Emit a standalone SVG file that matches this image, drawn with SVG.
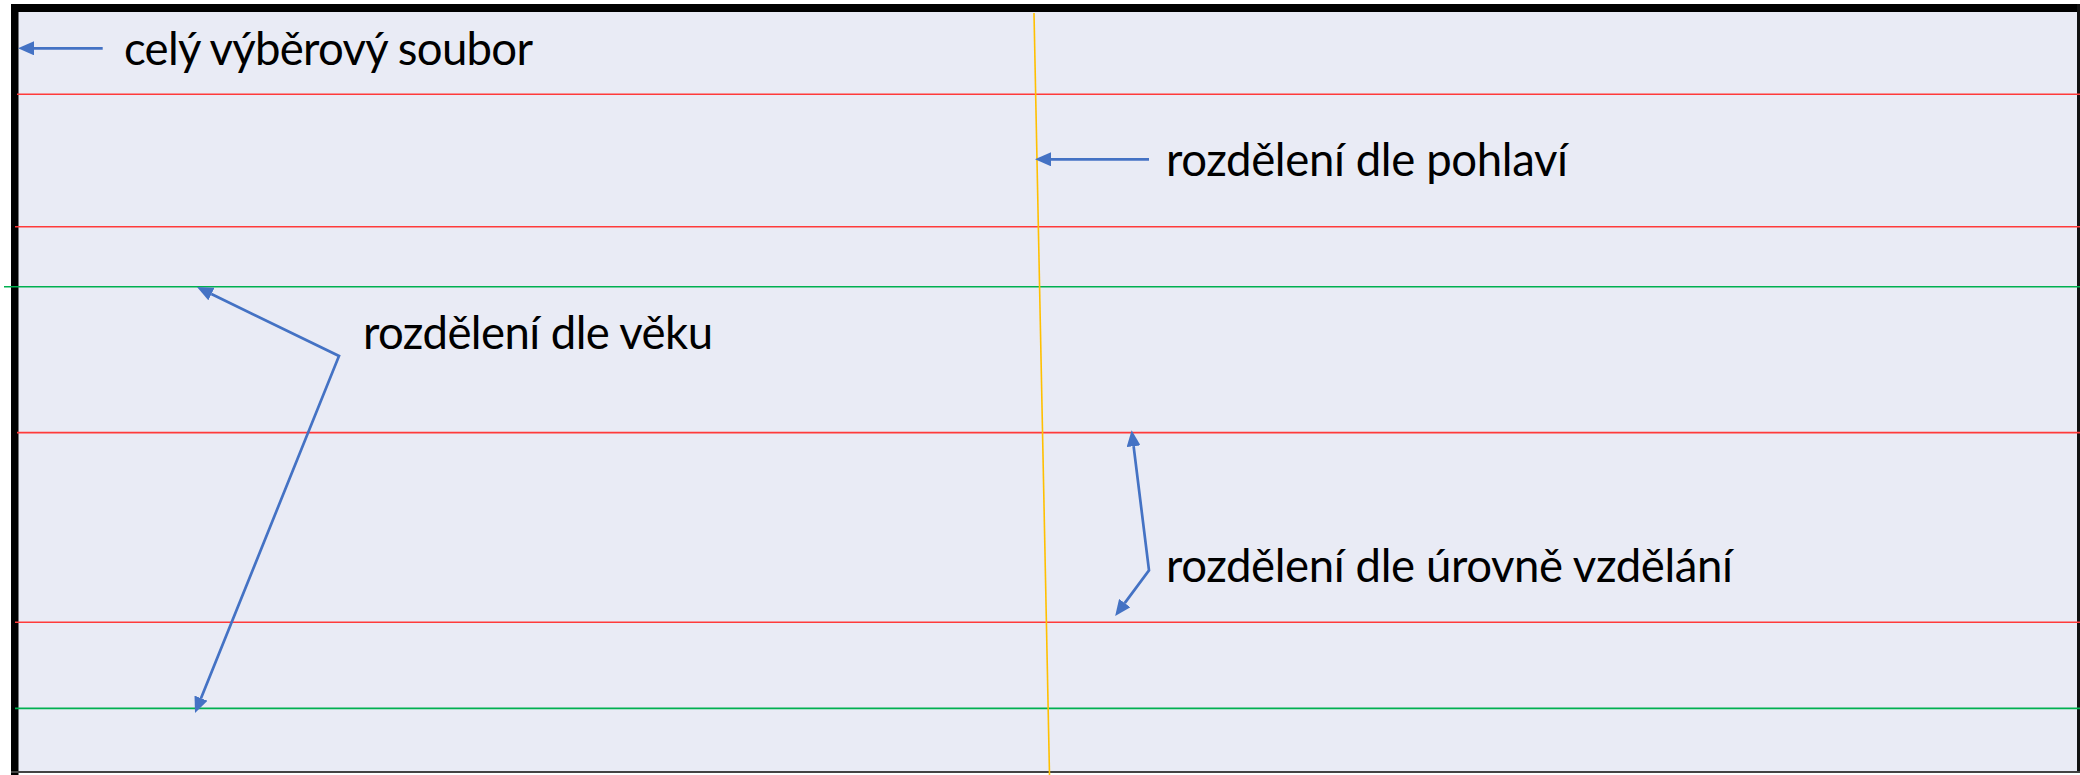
<svg xmlns="http://www.w3.org/2000/svg" width="2080" height="775" viewBox="0 0 2080 775">
  <style>
    .lbl { font-family: "Lato", "Liberation Sans", sans-serif; font-size: 45.5px; fill: #000000; }
    .red { stroke: #FF3A3A; stroke-width: 1.6; fill: none; }
    .green { stroke: #00B050; stroke-width: 1.6; fill: none; }
    .conn { stroke: #4472C4; stroke-width: 2.7; fill: none; stroke-linejoin: miter; }
  </style>
  <defs>
    <marker id="ah" viewBox="0 0 16 14" refX="0" refY="7" markerWidth="16" markerHeight="14" markerUnits="userSpaceOnUse" orient="auto-start-reverse">
      <path d="M0 0 L16 7 L0 14 Z" fill="#4472C4"/>
    </marker>
  </defs>

  <g id="frame">
    <rect x="0" y="0" width="2080" height="775" fill="#FFFFFF"/>
    <rect x="15" y="8" width="2064" height="765" fill="#E9EBF5"/>
    <rect x="11" y="4" width="2069" height="8" fill="#000000"/>
    <rect x="11" y="4" width="7.5" height="771" fill="#000000"/>
    <rect x="2077" y="4" width="3" height="769" fill="#111111"/>
    <rect x="11" y="771" width="2069" height="2" fill="#444444"/>
  </g>

  <g id="levels">
    <line class="red" x1="17" y1="94.2" x2="2080" y2="94.2"/>
    <line class="red" x1="15" y1="226.8" x2="2080" y2="226.8"/>
    <line class="green" x1="4" y1="286.7" x2="2080" y2="286.7"/>
    <line class="red" x1="17" y1="432.6" x2="2080" y2="432.6"/>
    <line class="red" x1="15" y1="622.2" x2="2080" y2="622.2"/>
    <line class="green" x1="15" y1="708.4" x2="2080" y2="708.4"/>
    <line x1="1034" y1="13" x2="1049.5" y2="775" stroke="#FFC000" stroke-width="1.6"/>
  </g>

  <g id="label-cely">
    <text class="lbl" x="124" y="65" textLength="409">celý výběrový soubor</text>
  </g>
  <g id="label-pohlavi">
    <text class="lbl" x="1166" y="176" textLength="402">rozdělení dle pohlaví</text>
  </g>
  <g id="label-veku">
    <text class="lbl" x="363" y="349" textLength="350">rozdělení dle věku</text>
  </g>
  <g id="label-vzdelani">
    <text class="lbl" x="1166" y="582" textLength="567">rozdělení dle úrovně vzdělání</text>
  </g>

  <g id="connectors">
    <path class="conn" d="M102.7 48.3 H34" marker-end="url(#ah)"/>
    <path class="conn" d="M1149 159.3 H1051" marker-end="url(#ah)"/>
    <path class="conn" d="M211.4 294 L339 356 L201 698.2" marker-start="url(#ah)" marker-end="url(#ah)"/>
    <path class="conn" d="M1133.6 446.2 L1149 570.3 L1124.7 603.1" marker-start="url(#ah)" marker-end="url(#ah)"/>
  </g>
</svg>
